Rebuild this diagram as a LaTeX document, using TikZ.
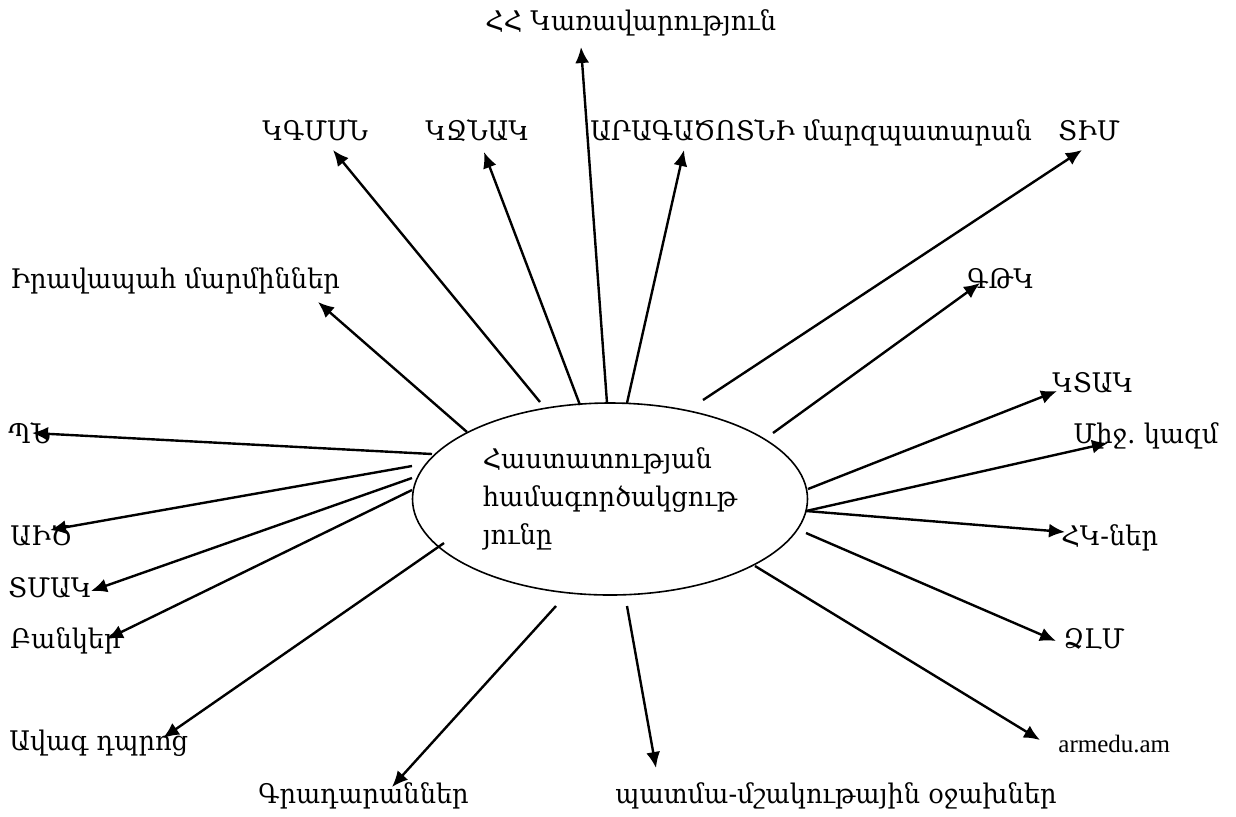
\documentclass[tikz,border=0pt]{standalone}
\usepackage{fontspec}
\setmainfont{DejaVu Serif}[FakeStretch=0.95]
\newfontfamily\latinfont{Liberation Serif}
\usetikzlibrary{arrows.meta,shapes.geometric}

\tikzset{
  lbl/.style={anchor=base west, inner sep=0pt, font=\fontsize{13.5}{16}\selectfont},
  link/.style={line width=1.2pt, -{Latex[length=8pt,width=7pt]}},
}

\begin{document}
\begin{tikzpicture}[x=0.5pt, y=-0.5pt]
\useasboundingbox (0,0) rectangle (1236,816);

% centre
\node[ellipse, draw, line width=0.8pt, minimum width=197.5pt, minimum height=96pt,
      inner sep=0pt, align=left, font=\fontsize{13.5}{19}\selectfont]
      (coop) at (610,499) {Հաստատության\\համագործակցութ\\յունը};

% labels
\node[lbl] (gov)   at (485, 30)  {ՀՀ Կառավարություն};
\node[lbl] (kgms)  at (262, 140) {ԿԳՄՍՆ};
\node[lbl] (kjnak) at (425, 140) {ԿՋՆԱԿ};
\node[lbl] (marz)  at (590, 140) {ԱՐԱԳԱԾՈՏՆԻ մարզպատարան};
\node[lbl] (tim)   at (1058, 140) {ՏԻՄ};
\node[lbl] (irav)  at (10, 288)  {Իրավապահ մարմիններ};
\node[lbl] (gtk)   at (967, 288) {ԳԹԿ};
\node[lbl] (ktak)  at (1052, 392) {ԿՏԱԿ};
\node[lbl] (mij)   at (1073, 443) {Միջ․ կազմ};
\node[lbl] (pn)    at (8, 443)   {ՊՆ};
\node[lbl] (aic)   at (10, 545)  {ԱԻԾ};
\node[lbl] (hk)    at (1061, 545) {ՀԿ-ներ};
\node[lbl] (tmak)  at (8, 597)   {ՏՄԱԿ};
\node[lbl] (bank)  at (10, 648)  {Բանկեր};
\node[lbl] (jlm)   at (1063, 648) {ՁԼՄ};
\node[lbl] (avag)  at (9, 750)   {Ավագ դպրոց};
\node[lbl] (armedu) at (1058, 752) {\latinfont\fontsize{12.5}{15}\selectfont armedu.am};
\node[lbl] (grad)  at (258, 803) {Գրադարաններ};
\node[lbl] (patm)  at (615, 803) {պատմա-մշակութային օջախներ};

% arrow ends
\coordinate (s-gov)   at (607, 403);  \coordinate (e-gov)   at (581, 47);
\coordinate (s-kgms)  at (540, 402);  \coordinate (e-kgms)  at (333, 150);
\coordinate (s-kjnak) at (580, 405);  \coordinate (e-kjnak) at (484, 152);
\coordinate (s-marz)  at (627, 403);  \coordinate (e-marz)  at (684, 150);
\coordinate (s-tim)   at (703, 400);  \coordinate (e-tim)   at (1082, 150);
\coordinate (s-irav)  at (467, 432);  \coordinate (e-irav)  at (318, 302);
\coordinate (s-gtk)   at (773, 433);  \coordinate (e-gtk)   at (980, 283);
\coordinate (s-ktak)  at (808, 489);  \coordinate (e-ktak)  at (1057, 391);
\coordinate (s-mij)   at (806, 511);  \coordinate (e-mij)   at (1108, 443);
\coordinate (s-pn)    at (432, 454);  \coordinate (e-pn)    at (32, 433);
\coordinate (s-aic)   at (412, 466);  \coordinate (e-aic)   at (50, 530);
\coordinate (s-hk)    at (806, 511);  \coordinate (e-hk)    at (1065, 532);
\coordinate (s-tmak)  at (412, 478);  \coordinate (e-tmak)  at (91, 591);
\coordinate (s-bank)  at (412, 490);  \coordinate (e-bank)  at (107, 639);
\coordinate (s-jlm)   at (806, 533);  \coordinate (e-jlm)   at (1056, 641);
\coordinate (s-avag)  at (444, 543);  \coordinate (e-avag)  at (163, 738);
\coordinate (s-armedu) at (755, 566); \coordinate (e-armedu) at (1040, 740);
\coordinate (s-grad)  at (556, 606);  \coordinate (e-grad)  at (392, 787);
\coordinate (s-patm)  at (627, 606);  \coordinate (e-patm)  at (656, 768);

\foreach \n in {gov,kgms,kjnak,marz,tim,irav,gtk,ktak,mij,pn,aic,hk,tmak,bank,jlm,avag,armedu,grad,patm}
  \draw[link] (s-\n) -- (e-\n);

\end{tikzpicture}
\end{document}
